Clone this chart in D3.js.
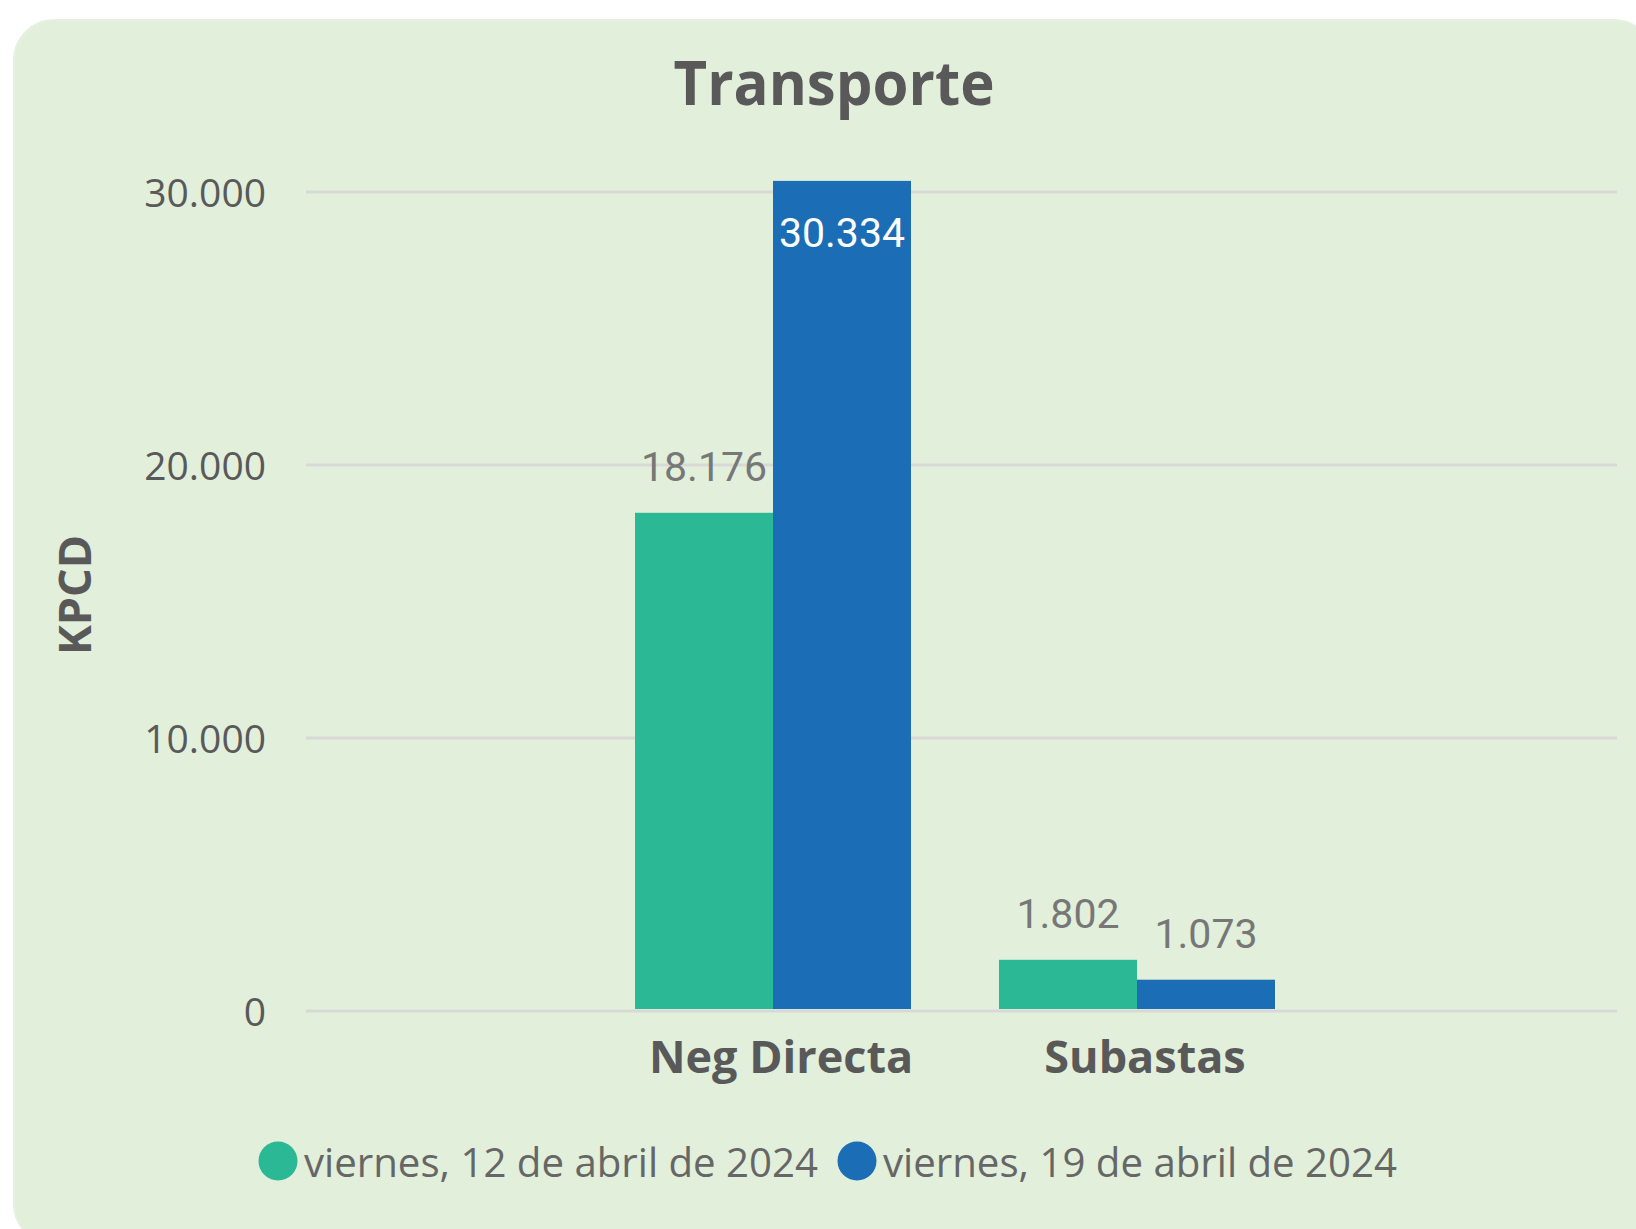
<!DOCTYPE html>
<html>
<head>
<meta charset="utf-8">
<script src="https://cdnjs.cloudflare.com/ajax/libs/d3/7.8.5/d3.min.js"></script>
<style>
  html, body { margin: 0; padding: 0; background: #ffffff; }
  svg { display: block; }
</style>
</head>
<body>
<svg id="chart" width="1636" height="1229"></svg>
<script>
const title = "Transporte";
const yAxisTitle = "KPCD";
const categories = ["Neg Directa", "Subastas"];
const seriesNames = ["viernes, 12 de abril de 2024", "viernes, 19 de abril de 2024"];
const series1Values = [18176, 1802];
const series2Values = [30334, 1073];
const yTicks = [0, 10000, 20000, 30000];
const colors = ["#2BB894", "#1B6DB5"];

const seriesValues = [series1Values, series2Values];
const fmt = v => d3.format(",")(v).replace(/,/g, ".");

const svg = d3.select("#chart");

// card
svg.append("rect")
  .attr("x", 14).attr("y", 20).attr("width", 1640).attr("height", 1224)
  .attr("rx", 40).attr("ry", 40)
  .attr("fill", "#E2EFDA").attr("stroke", "#E6F1DF").attr("stroke-width", 2);

const plot = { left: 306, right: 1617, top: 192, bottom: 1011 };
const barShift = -2;

const y = d3.scaleLinear().domain([0, 30000]).range([plot.bottom, plot.top]);
const x0 = d3.scaleBand().domain(categories).range([591, 1319]).paddingInner(0.2418).paddingOuter(0.1209);
const x1 = d3.scaleBand().domain(seriesNames).range([0, x0.bandwidth()]).padding(0);

// title
svg.append("text")
  .attr("x", 834).attr("y", 105)
  .attr("text-anchor", "middle")
  .attr("font-family", "'Open Sans', sans-serif")
  .attr("font-weight", 700)
  .attr("font-size", 60)
  .attr("textLength", 321).attr("lengthAdjust", "spacingAndGlyphs")
  .attr("fill", "#595959")
  .text(title);

// gridlines
svg.append("g").selectAll("line").data(yTicks).join("line")
  .attr("x1", plot.left).attr("x2", plot.right)
  .attr("y1", d => y(d)).attr("y2", d => y(d))
  .attr("stroke", "#D8D9D6").attr("stroke-width", 3);

// y axis tick labels
const yAxis = d3.axisLeft(y).tickValues(yTicks).tickFormat(fmt).tickSize(0).tickPadding(0);
const yg = svg.append("g").attr("transform", `translate(266,0)`).call(yAxis);
yg.select(".domain").remove();
yg.selectAll("text")
  .attr("font-family", "'Open Sans', sans-serif")
  .attr("font-size", 39)
  .attr("fill", "#595959")
  .attr("dy", null)
  .attr("y", 14);

// y axis title
svg.append("text")
  .attr("transform", `translate(91,595) rotate(-90)`)
  .attr("text-anchor", "middle")
  .attr("font-family", "'Open Sans', sans-serif")
  .attr("font-weight", 700)
  .attr("font-size", 45)
  .attr("fill", "#595959")
  .text(yAxisTitle);

// bars
const flat = [];
categories.forEach((c, i) => {
  seriesNames.forEach((s, j) => {
    flat.push({ cat: c, ser: s, si: j, value: seriesValues[j][i] });
  });
});

svg.append("g").attr("transform", `translate(0,${barShift})`)
  .selectAll("rect").data(flat).join("rect")
  .attr("x", d => x0(d.cat) + x1(d.ser))
  .attr("width", x1.bandwidth())
  .attr("y", d => y(d.value))
  .attr("height", d => y(0) - y(d.value))
  .attr("fill", d => colors[d.si]);

// value labels
const inside = d => (y(d.value) - 40 < 170);
svg.append("g").attr("transform", `translate(0,${barShift})`)
  .selectAll("text").data(flat).join("text")
  .attr("x", d => x0(d.cat) + x1(d.ser) + x1.bandwidth() / 2)
  .attr("y", d => inside(d) ? y(d.value) + 66 : y(d.value) - 32)
  .attr("text-anchor", "middle")
  .attr("font-family", "Roboto, sans-serif")
  .attr("font-size", 41)
  .attr("fill", d => inside(d) ? "#FFFFFF" : "#777777")
  .text(d => fmt(d.value));

// category labels
const xAxis = d3.axisBottom(x0).tickSize(0).tickPadding(0);
const xg = svg.append("g").attr("transform", `translate(8,${plot.bottom})`).call(xAxis);
xg.select(".domain").remove();
xg.selectAll("text")
  .attr("font-family", "'Open Sans', sans-serif")
  .attr("font-weight", 700)
  .attr("font-size", 45)
  .attr("fill", "#595959")
  .attr("dy", null)
  .attr("y", 62);

// legend
const legendX = [278, 857];
const lg = svg.append("g").selectAll("g").data(seriesNames).join("g")
  .attr("transform", (d, i) => `translate(${legendX[i]},1161)`);
lg.append("circle").attr("r", 19.5).attr("fill", (d, i) => colors[i]);
lg.append("text")
  .attr("x", 26).attr("y", 16)
  .attr("font-family", "'Open Sans', sans-serif")
  .attr("font-size", 40)
  .attr("textLength", 514).attr("lengthAdjust", "spacingAndGlyphs")
  .attr("fill", "#666666")
  .text(d => d);
</script>
</body>
</html>
